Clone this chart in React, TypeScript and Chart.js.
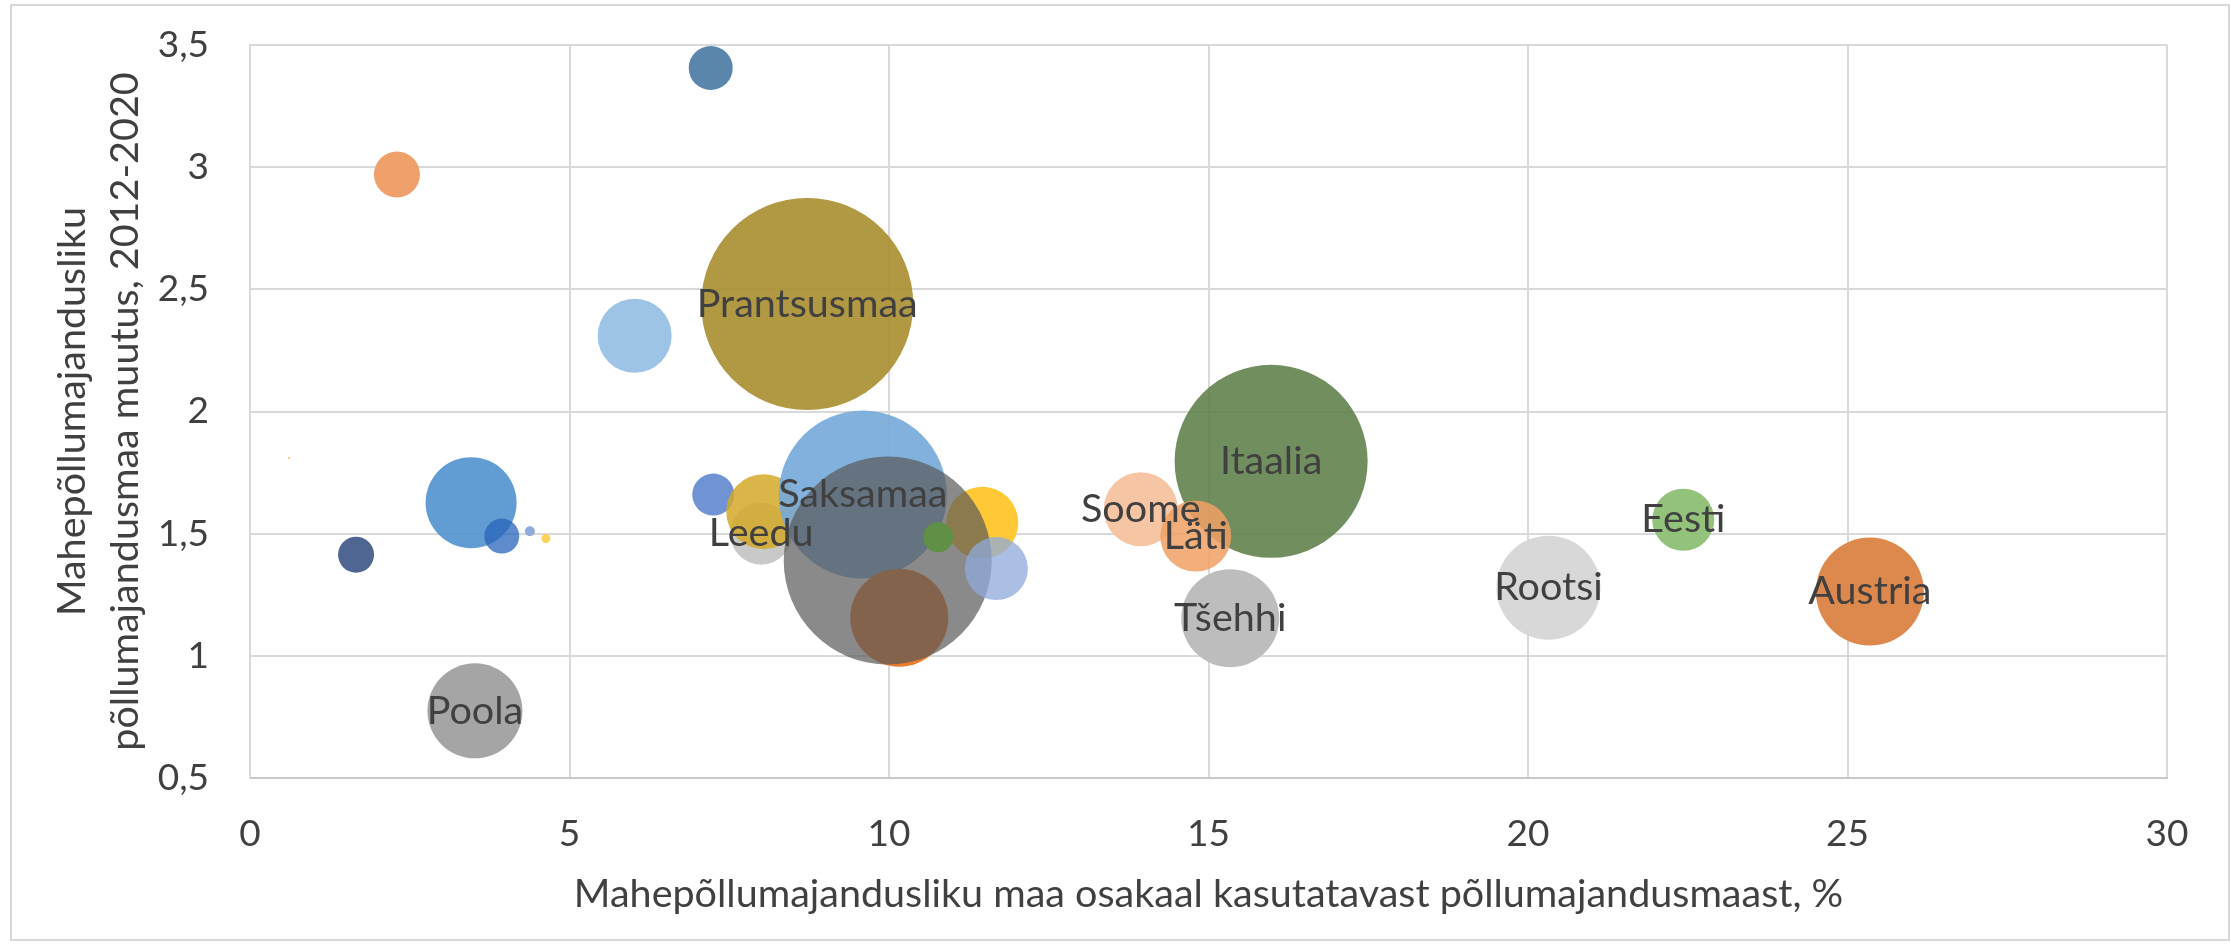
import React, { useEffect, useRef } from "react";
import { Chart, registerables } from "chart.js";

Chart.register(...registerables);

// ---- data, listed in drawing order ----
const countries = [
  "", "", "", "", "Poola", "", "", "", "", "",
  "Prantsusmaa", "", "Leedu", "", "Saksamaa", "", "", "", "", "",
  "Soome", "Itaalia", "Läti", "Tšehhi", "Rootsi", "Eesti", "Austria",
];
// share of organic land in utilised agricultural area, %
const organicShare = [
  0.61, 1.66, 2.3, 3.46, 3.52, 3.94, 4.38, 4.63, 6.02, 7.21,
  8.72, 7.25, 8.0, 8.04, 9.59, 10.16, 11.46, 9.98, 10.77, 11.68,
  13.94, 15.98, 14.8, 15.34, 20.32, 22.43, 25.35,
];
// change of organic land 2012-2020
const change = [
  1.81, 1.414, 2.97, 1.627, 0.775, 1.49, 1.51, 1.48, 2.31, 3.406,
  2.44, 1.66, 1.5, 1.59, 1.66, 1.156, 1.545, 1.39, 1.485, 1.357,
  1.6, 1.796, 1.49, 1.154, 1.279, 1.557, 1.263,
];
// bubble size
const bubbleSize = [
  1, 18, 23, 45.5, 47.5, 17.5, 5, 4.5, 37, 22,
  106, 21, 31, 37.5, 84, 49, 36, 104, 15, 31.5,
  37, 96.5, 35.5, 49, 52, 31, 54,
];
const xTicks = [0, 5, 10, 15, 20, 25, 30];
const yTicks = [0.5, 1, 1.5, 2, 2.5, 3, 3.5];

const xTitle = "Mahepõllumajandusliku maa osakaal kasutatavast põllumajandusmaast, %";
const yTitle = ["Mahepõllumajandusliku", "põllumajandusmaa muutus, 2012-2020"];

const palette = [
  "#f5c842", "#4f6592", "#f0a06a", "rgba(80,145,205,0.9)", "#a5a5a5",
  "rgba(40,100,185,0.75)", "#8faadc", "#fdd35b", "#9dc3e6", "#5a86ac",
  "rgba(170,143,50,0.92)", "#6f93d3", "#c9c9c9", "rgba(212,168,40,0.85)",
  "rgba(116,168,217,0.9)", "#ec7c30", "#ffc935", "rgba(89,89,89,0.7)",
  "#5f9045", "rgba(143,170,220,0.75)", "#f6c6a4", "rgba(92,125,70,0.87)",
  "rgba(240,160,100,0.85)", "#bdbdbd", "#d8d8d8", "#93c27a", "#dd884c",
];

const FONT = "Lato";
const TEXT = "#404040";

export default function App() {
  const ref = useRef<HTMLCanvasElement | null>(null);

  useEffect(() => {
    const canvas = ref.current;
    if (!canvas) return;

    const bgPlugin = {
      id: "bg",
      beforeDraw(chart: any) {
        const ctx = chart.ctx;
        ctx.save();
        ctx.fillStyle = "#ffffff";
        ctx.fillRect(0, 0, chart.width, chart.height);
        ctx.strokeStyle = "#d9d9d9";
        ctx.lineWidth = 2;
        ctx.strokeRect(11, 5, 2218, 935);
        ctx.restore();
      },
    };

    const labelPlugin = {
      id: "labels",
      afterDatasetsDraw(chart: any) {
        const ctx = chart.ctx;
        const meta = chart.getDatasetMeta(0);
        ctx.save();
        ctx.font = `39.5px ${FONT}`;
        ctx.fillStyle = TEXT;
        ctx.textAlign = "center";
        ctx.textBaseline = "middle";
        meta.data.forEach((el: any, i: number) => {
          const name = countries[i];
          if (name) ctx.fillText(name, el.x, el.y);
        });
        ctx.restore();
      },
      afterDraw(chart: any) {
        const ctx = chart.ctx;
        const a = chart.chartArea;
        ctx.save();
        ctx.font = `39.5px ${FONT}`;
        ctx.fillStyle = TEXT;
        ctx.textAlign = "center";
        ctx.textBaseline = "alphabetic";
        ctx.fillText(xTitle, (a.left + a.right) / 2, 907);
        const cy = (a.top + a.bottom) / 2;
        const baselines = [85, 138];
        yTitle.forEach((line, i) => {
          ctx.save();
          ctx.translate(baselines[i], cy);
          ctx.rotate(-Math.PI / 2);
          ctx.fillText(line, 0, 0);
          ctx.restore();
        });
        ctx.restore();
      },
    };

    const chart = new Chart(canvas, {
      type: "bubble",
      data: {
        datasets: [
          {
            label: "Riigid",
            data: organicShare.map((x, i) => ({ x, y: change[i], r: bubbleSize[i] })),
            backgroundColor: palette,
            borderWidth: 0,
            hoverRadius: 0,
            hoverBorderWidth: 0,
          },
        ],
      },
      options: {
        animation: false,
        responsive: false,
        devicePixelRatio: 1,
        events: [],
        layout: { autoPadding: false, padding: { left: 0, top: 45, right: 64, bottom: 0 } },
        plugins: {
          legend: { display: false },
          tooltip: { enabled: false },
          title: { display: false },
        },
        scales: {
          x: {
            type: "linear",
            min: 0,
            max: 30,
            afterFit(scale: any) {
              scale.height = 944 - 778;
              scale.paddingLeft = 0;
              scale.paddingRight = 0;
            },
            afterBuildTicks(scale: any) {
              scale.ticks = xTicks.map((v) => ({ value: v }));
            },
            grid: { color: "#d9d9d9", lineWidth: 2, drawTicks: false },
            border: { color: "#c8c8c8", width: 2 },
            ticks: {
              padding: 34,
              color: TEXT,
              font: { family: FONT, size: 37 },
              maxRotation: 0,
              callback: (v: any) => String(v).replace(".", ","),
            },
          },
          y: {
            type: "linear",
            min: 0.5,
            max: 3.5,
            afterFit(scale: any) {
              scale.width = 250;
              scale.paddingTop = 0;
              scale.paddingBottom = 0;
            },
            afterBuildTicks(scale: any) {
              scale.ticks = yTicks.map((v) => ({ value: v }));
            },
            grid: { color: "#d9d9d9", lineWidth: 2, drawTicks: false },
            border: { color: "#d9d9d9", width: 2 },
            ticks: {
              padding: 41,
              color: TEXT,
              font: { family: FONT, size: 37 },
              callback: (v: any) => String(v).replace(".", ","),
            },
          },
        },
      },
      plugins: [bgPlugin, labelPlugin],
    });

    return () => chart.destroy();
  }, []);

  return (
    <div style={{ position: "absolute", left: 0, top: 0, width: 2231, height: 944 }}>
      <canvas ref={ref} width={2231} height={944} style={{ width: 2231, height: 944, display: "block" }} />
    </div>
  );
}
